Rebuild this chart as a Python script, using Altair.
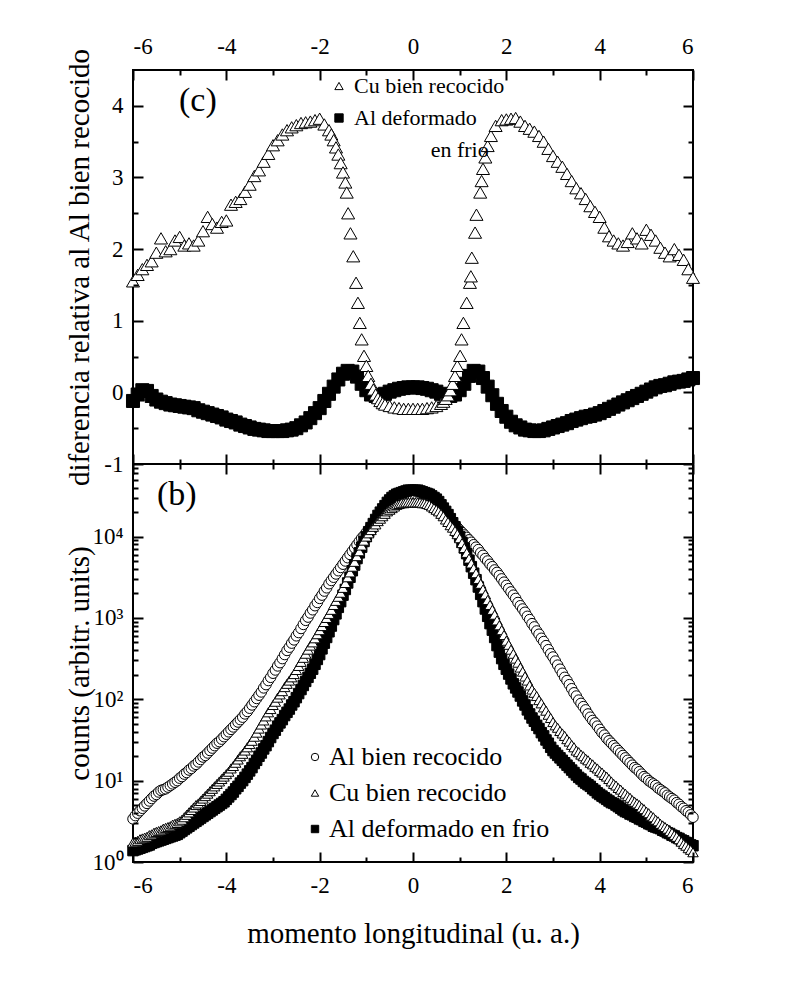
import altair as alt
import pandas as pd

FONT = "Liberation Serif"
W, H_TOP, H_BOT = 560, 394, 398

# ---------------- panel (c): relative difference ----------------
cu_rel_x = [-6.0, -5.9, -5.8, -5.7, -5.6, -5.5, -5.4, -5.3, -5.2, -5.1,
            -5.0, -4.9, -4.8, -4.7, -4.6, -4.5, -4.4, -4.3, -4.2, -4.1,
            -4.0, -3.9, -3.8, -3.7, -3.6, -3.5, -3.4, -3.3, -3.2, -3.1,
            -3.0, -2.9, -2.8, -2.7, -2.6, -2.5, -2.4, -2.3, -2.2, -2.1,
            -2.0, -1.9, -1.8,
            -1.75, -1.7, -1.65, -1.6, -1.55, -1.5, -1.45, -1.42, -1.39, -1.34,
            -1.28, -1.22, -1.18, -1.14, -1.10, -1.05, -1.00, -0.96, -0.90, -0.85,
            -0.80, -0.75, -0.70, -0.65, -0.60,
            -0.5, -0.4, -0.3, -0.2, -0.1, 0.0, 0.1, 0.2, 0.3, 0.4, 0.5,
            0.60, 0.65, 0.70, 0.75, 0.80, 0.85, 0.90, 0.95, 1.01, 1.04,
            1.08, 1.15, 1.22, 1.24, 1.26, 1.33, 1.36, 1.44, 1.47, 1.50,
            1.55, 1.60, 1.67, 1.77, 1.90,
            2.0, 2.1, 2.2, 2.3, 2.4, 2.5, 2.6, 2.7, 2.8, 2.9,
            3.0, 3.1, 3.2, 3.3, 3.4, 3.5, 3.6, 3.7, 3.8, 3.9,
            4.0, 4.1, 4.2, 4.3, 4.4, 4.5, 4.6, 4.7, 4.8, 4.9,
            5.0, 5.1, 5.2, 5.3, 5.4, 5.5, 5.6, 5.7, 5.8, 5.9, 6.0]
cu_rel_y = [1.55, 1.64, 1.72, 1.78, 1.83, 1.95, 2.15, 1.97, 2.00, 2.12,
            2.17, 2.05, 2.08, 2.05, 2.12, 2.25, 2.45, 2.35, 2.30, 2.38,
            2.40, 2.62, 2.66, 2.70, 2.80, 2.90, 3.02, 3.10, 3.22, 3.33,
            3.45, 3.52, 3.60, 3.66, 3.70, 3.73, 3.76, 3.77, 3.78, 3.80,
            3.82, 3.74, 3.66,
            3.60, 3.52, 3.42, 3.32, 3.20, 3.07, 2.93, 2.79, 2.50, 2.22,
            1.90, 1.53, 1.25, 0.97, 0.74, 0.51, 0.37, 0.23, 0.12, 0.04,
            -0.03, -0.08, -0.12, -0.15, -0.17,
            -0.19, -0.21, -0.22, -0.23, -0.23, -0.23, -0.23, -0.23, -0.22, -0.21, -0.19,
            -0.16, -0.13, -0.09, -0.04, 0.03, 0.12, 0.23, 0.37, 0.51, 0.74,
            0.97, 1.25, 1.53, 1.62, 1.88, 2.23, 2.48, 2.79, 2.95, 3.12,
            3.28, 3.44, 3.58, 3.72, 3.80,
            3.81, 3.82, 3.83, 3.78, 3.72, 3.68, 3.64, 3.58, 3.50, 3.40,
            3.30, 3.22, 3.15, 3.05, 2.95, 2.85, 2.78, 2.70, 2.60, 2.52,
            2.45, 2.30, 2.18, 2.12, 2.08, 2.05, 2.10, 2.22, 2.15, 2.08,
            2.27, 2.20, 2.12, 2.02, 1.95, 1.90, 2.00, 1.92, 1.85, 1.72, 1.60]

# momentum grid of panel (c) squares (-6 ... 6, step 0.1)
grid_c = [round(-6 + 0.1 * i, 1) for i in range(121)]

al_def_rel = [-0.12, -0.03, 0.03, 0.02, -0.05, -0.10, -0.13, -0.15, -0.17, -0.18,
              -0.19, -0.20, -0.21, -0.22, -0.25, -0.27, -0.29, -0.31, -0.33, -0.35,
              -0.38, -0.40, -0.42, -0.45, -0.47, -0.49, -0.51, -0.52, -0.53, -0.54,
              -0.54, -0.54, -0.54, -0.53, -0.52, -0.50, -0.46, -0.42, -0.36, -0.29,
              -0.22, -0.12, -0.02, 0.08, 0.18, 0.26, 0.30, 0.29, 0.22, 0.12,
              0.03, -0.03, -0.05, -0.04, -0.02, 0.01, 0.03, 0.05, 0.06, 0.07,
              0.07,
              0.07, 0.06, 0.05, 0.03, 0.01, -0.02, -0.04, -0.05, -0.03, 0.03,
              0.12, 0.23, 0.30, 0.29, 0.20, 0.08, -0.04, -0.16, -0.26, -0.34,
              -0.41, -0.46, -0.49, -0.52, -0.53, -0.54, -0.54, -0.53, -0.51, -0.49,
              -0.47, -0.45, -0.43, -0.40, -0.38, -0.36, -0.34, -0.33, -0.31, -0.29,
              -0.26, -0.23, -0.20, -0.17, -0.14, -0.11, -0.08, -0.05, -0.02, 0.01,
              0.04, 0.07, 0.09, 0.10, 0.12, 0.14, 0.15, 0.16, 0.18, 0.20]

# ---------------- panel (b): counts, stored as log10(counts), step 0.05 ----------------
grid_b = [round(-6 + 0.05 * i, 2) for i in range(241)]

log_al_rec = [0.53, 0.57, 0.60, 0.63, 0.66, 0.69, 0.72, 0.75, 0.78, 0.81,
              0.83, 0.86, 0.88, 0.89, 0.90, 0.92, 0.94, 0.96, 0.98, 1.00,
              1.03, 1.05, 1.08, 1.10, 1.13, 1.15, 1.18, 1.20, 1.23, 1.26,
              1.29, 1.31, 1.34, 1.37, 1.40, 1.43, 1.46, 1.48, 1.51, 1.54,
              1.57, 1.60, 1.63, 1.66, 1.69, 1.72, 1.75, 1.78, 1.82, 1.85,
              1.89, 1.93, 1.97, 2.01, 2.05, 2.09, 2.14, 2.18, 2.23, 2.27,
              2.32, 2.36, 2.41, 2.45, 2.50, 2.55, 2.60, 2.64, 2.69, 2.73,
              2.78, 2.82, 2.87, 2.92, 2.97, 3.01, 3.06, 3.10, 3.15, 3.19,
              3.24, 3.28, 3.33, 3.37, 3.42, 3.46, 3.50, 3.54, 3.58, 3.62,
              3.66, 3.70, 3.74, 3.78, 3.82, 3.86, 3.90, 3.94, 3.98, 4.01,
              4.05, 4.08, 4.12, 4.15, 4.18, 4.21, 4.24, 4.26, 4.29, 4.31,
              4.34, 4.36, 4.38, 4.39, 4.41, 4.42, 4.43, 4.44, 4.45, 4.45,
              4.45,
              4.45, 4.45, 4.44, 4.43, 4.42, 4.41, 4.39, 4.38, 4.36, 4.34,
              4.31, 4.29, 4.26, 4.24, 4.21, 4.19, 4.16, 4.14, 4.11, 4.08,
              4.05, 4.02, 3.99, 3.96, 3.93, 3.90, 3.87, 3.84, 3.80, 3.77,
              3.73, 3.70, 3.66, 3.63, 3.59, 3.56, 3.52, 3.48, 3.44, 3.40,
              3.36, 3.32, 3.28, 3.24, 3.19, 3.15, 3.11, 3.07, 3.02, 2.98,
              2.93, 2.89, 2.84, 2.80, 2.75, 2.71, 2.66, 2.61, 2.56, 2.52,
              2.47, 2.42, 2.37, 2.32, 2.27, 2.23, 2.18, 2.13, 2.08, 2.04,
              1.99, 1.95, 1.91, 1.87, 1.82, 1.78, 1.74, 1.71, 1.67, 1.63,
              1.59, 1.56, 1.52, 1.49, 1.46, 1.43, 1.40, 1.37, 1.34, 1.31,
              1.28, 1.25, 1.22, 1.19, 1.16, 1.14, 1.11, 1.08, 1.05, 1.03,
              1.00, 0.98, 0.96, 0.94, 0.91, 0.89, 0.87, 0.85, 0.82, 0.80,
              0.78, 0.76, 0.73, 0.71, 0.68, 0.66, 0.63, 0.61, 0.58, 0.55]
log_cu_rec = [0.24, 0.25, 0.26, 0.28, 0.29, 0.30, 0.31, 0.33, 0.34, 0.36,
              0.37, 0.38, 0.39, 0.41, 0.42, 0.43, 0.44, 0.46, 0.47, 0.48,
              0.50, 0.52, 0.55, 0.58, 0.61, 0.64, 0.67, 0.70, 0.72, 0.75,
              0.78, 0.81, 0.84, 0.87, 0.90, 0.93, 0.96, 0.99, 1.02, 1.05,
              1.08, 1.11, 1.15, 1.18, 1.22, 1.26, 1.30, 1.33, 1.37, 1.41,
              1.45, 1.49, 1.54, 1.59, 1.64, 1.69, 1.74, 1.79, 1.84, 1.88,
              1.93, 1.97, 2.02, 2.06, 2.10, 2.15, 2.19, 2.23, 2.27, 2.31,
              2.36, 2.41, 2.46, 2.51, 2.56, 2.61, 2.66, 2.70, 2.75, 2.80,
              2.85, 2.90, 2.95, 3.00, 3.05, 3.10, 3.16, 3.21, 3.26, 3.31,
              3.37, 3.43, 3.50, 3.56, 3.63, 3.69, 3.76, 3.82, 3.89, 3.95,
              4.00, 4.04, 4.08, 4.12, 4.15, 4.19, 4.22, 4.25, 4.28, 4.31,
              4.33, 4.35, 4.37, 4.39, 4.40, 4.41, 4.41, 4.42, 4.42, 4.42,
              4.42,
              4.42, 4.42, 4.42, 4.41, 4.41, 4.40, 4.39, 4.37, 4.35, 4.33,
              4.31, 4.28, 4.25, 4.21, 4.18, 4.14, 4.11, 4.07, 4.03, 3.98,
              3.92, 3.86, 3.80, 3.73, 3.67, 3.61, 3.55, 3.48, 3.42, 3.35,
              3.29, 3.22, 3.16, 3.10, 3.04, 2.97, 2.91, 2.85, 2.79, 2.72,
              2.67, 2.61, 2.56, 2.50, 2.45, 2.39, 2.34, 2.28, 2.23, 2.17,
              2.12, 2.08, 2.04, 1.99, 1.95, 1.90, 1.86, 1.81, 1.77, 1.72,
              1.68, 1.65, 1.61, 1.58, 1.55, 1.51, 1.48, 1.44, 1.41, 1.37,
              1.35, 1.32, 1.30, 1.27, 1.25, 1.22, 1.20, 1.17, 1.15, 1.12,
              1.10, 1.07, 1.05, 1.02, 0.99, 0.96, 0.94, 0.91, 0.89, 0.86,
              0.84, 0.81, 0.79, 0.76, 0.74, 0.72, 0.70, 0.67, 0.65, 0.62,
              0.60, 0.57, 0.55, 0.52, 0.50, 0.47, 0.45, 0.43, 0.41, 0.38,
              0.36, 0.33, 0.31, 0.28, 0.25, 0.22, 0.20, 0.17, 0.15, 0.12]
log_al_def = [0.14, 0.15, 0.16, 0.17, 0.18, 0.19, 0.20, 0.21, 0.23, 0.24,
              0.25, 0.26, 0.27, 0.28, 0.29, 0.30, 0.31, 0.32, 0.33, 0.34,
              0.36, 0.38, 0.40, 0.42, 0.44, 0.46, 0.48, 0.50, 0.52, 0.54,
              0.56, 0.58, 0.60, 0.62, 0.64, 0.66, 0.68, 0.70, 0.72, 0.74,
              0.77, 0.80, 0.83, 0.86, 0.90, 0.93, 0.97, 1.00, 1.04, 1.08,
              1.12, 1.16, 1.21, 1.25, 1.30, 1.34, 1.39, 1.43, 1.48, 1.53,
              1.58, 1.62, 1.67, 1.71, 1.75, 1.80, 1.84, 1.88, 1.93, 1.97,
              2.02, 2.07, 2.12, 2.17, 2.22, 2.27, 2.32, 2.37, 2.43, 2.49,
              2.55, 2.62, 2.69, 2.76, 2.83, 2.90, 2.98, 3.05, 3.13, 3.20,
              3.28, 3.35, 3.43, 3.50, 3.58, 3.65, 3.73, 3.80, 3.87, 3.94,
              4.00, 4.06, 4.11, 4.16, 4.21, 4.26, 4.30, 4.34, 4.38, 4.42,
              4.45, 4.48, 4.50, 4.52, 4.53, 4.54, 4.55, 4.56, 4.57, 4.57,
              4.57,
              4.57, 4.57, 4.56, 4.55, 4.54, 4.53, 4.52, 4.50, 4.48, 4.46,
              4.43, 4.39, 4.35, 4.31, 4.27, 4.22, 4.17, 4.12, 4.06, 4.00,
              3.93, 3.86, 3.79, 3.71, 3.63, 3.55, 3.47, 3.38, 3.29, 3.20,
              3.11, 3.02, 2.93, 2.85, 2.76, 2.66, 2.58, 2.50, 2.43, 2.37,
              2.31, 2.25, 2.19, 2.14, 2.09, 2.04, 1.98, 1.93, 1.87, 1.82,
              1.77, 1.73, 1.68, 1.64, 1.59, 1.55, 1.50, 1.46, 1.41, 1.37,
              1.34, 1.31, 1.28, 1.25, 1.22, 1.19, 1.16, 1.13, 1.10, 1.07,
              1.04, 1.02, 0.99, 0.97, 0.95, 0.93, 0.90, 0.88, 0.85, 0.83,
              0.81, 0.79, 0.77, 0.75, 0.73, 0.72, 0.70, 0.68, 0.66, 0.64,
              0.62, 0.61, 0.59, 0.58, 0.56, 0.55, 0.53, 0.52, 0.50, 0.49,
              0.47, 0.46, 0.44, 0.43, 0.42, 0.41, 0.39, 0.38, 0.36, 0.35,
              0.33, 0.32, 0.30, 0.29, 0.27, 0.26, 0.24, 0.23, 0.21, 0.20]

top_series = ["Cu bien recocido", "Al deformado"]
bot_series = ["Al bien recocido", "Cu bien recocido", "Al deformado en frio"]

# draw order: filled squares first, hollow markers on top
top_df = pd.concat([
    pd.DataFrame({"x": grid_c, "y": al_def_rel, "serie": "Al deformado"}),
    pd.DataFrame({"x": cu_rel_x, "y": cu_rel_y, "serie": "Cu bien recocido"}),
], ignore_index=True)

bot_df = pd.concat([
    pd.DataFrame({"x": grid_b, "y": [10 ** v for v in log_al_rec], "serie": "Al bien recocido"}),
    pd.DataFrame({"x": grid_b, "y": [10 ** v for v in log_al_def], "serie": "Al deformado en frio"}),
    pd.DataFrame({"x": grid_b, "y": [10 ** v for v in log_cu_rec], "serie": "Cu bien recocido"}),
], ignore_index=True)

xs = alt.Scale(domain=[-6, 6], nice=False, zero=False)
ys_top = alt.Scale(domain=[-1, 4.5], nice=False, zero=False)
ys_bot = alt.Scale(type="log", domain=[1, 78000], nice=False)

X_MAJ = [-6, -4, -2, 0, 2, 4, 6]
X_MIN = [-5, -3, -1, 1, 3, 5]
YT_MAJ = [-1, 0, 1, 2, 3, 4]
YT_MIN = [-0.5, 0.5, 1.5, 2.5, 3.5]
YB_MAJ = [1, 10, 100, 1000, 10000]
YB_MIN = [m * 10 ** e for e in range(5) for m in range(2, 10) if m * 10 ** e < 78000]

LAB = 23


def tick_axis(orient, offset, values, size):
    return alt.Axis(orient=orient, offset=offset, values=values, tickSize=size,
                    tickWidth=2, tickColor="black", ticks=True, labels=False,
                    domain=False, grid=False, title=None, zindex=1)


def tick_layers(df, yscale, h, ymaj, ymin):
    small = df.iloc[:2]
    out = []
    for xo, yo in (("bottom", "right"), ("top", "left")):
        for xv, yv, sz in ((X_MAJ, ymaj, 10), (X_MIN, ymin, 5)):
            out.append(
                alt.Chart(small).mark_point(opacity=0).encode(
                    x=alt.X("x:Q", scale=xs, axis=tick_axis(xo, -h, xv, sz)),
                    y=alt.Y("y:Q", scale=yscale, axis=tick_axis(yo, -W, yv, sz)),
                )
            )
    return out


def text_layer(txt, x, y, yscale, size, align="center"):
    return alt.Chart(pd.DataFrame({"k": [0]})).mark_text(
        text=txt, font=FONT, fontSize=size, color="black", align=align, baseline="middle"
    ).encode(
        x=alt.XDatum(x, type="quantitative", scale=xs, axis=None),
        y=alt.YDatum(y, type="quantitative", scale=yscale, axis=None),
    )


def y_label_axis(values, title, expr):
    return alt.Axis(orient="left", values=values, ticks=False, domain=False, grid=False,
                    labelFont=FONT, labelFontSize=LAB, labelColor="black", labelPadding=10,
                    labelExpr=expr, title=title, titleFont=FONT, titleFontSize=29,
                    titleFontWeight="normal", titleColor="black", titlePadding=4,
                    minExtent=35, maxExtent=35)


def series_encodings(domain, shapes, fills, legend):
    return dict(
        shape=alt.Shape("serie:N", scale=alt.Scale(domain=domain, range=shapes), legend=legend),
        fill=alt.Fill("serie:N", scale=alt.Scale(domain=domain, range=fills), legend=legend),
        stroke=alt.Stroke("serie:N", scale=alt.Scale(domain=domain, range=["black"] * len(domain)),
                          legend=legend),
    )


# ---- top panel ----
top_legend = alt.Legend(orient="none", legendX=195, legendY=5, title=None, labelFont=FONT,
                        labelFontSize=22, labelColor="black", symbolSize=70,
                        symbolStrokeWidth=1, rowPadding=10,
                        labelOffset=4, padding=0, labelLimit=400)
top_points = alt.Chart(top_df).mark_point(filled=True, strokeWidth=1, opacity=1, size=170).encode(
    x=alt.X("x:Q", scale=xs,
            axis=alt.Axis(orient="top", values=X_MAJ, ticks=False, domain=False, grid=False,
                          labelFont=FONT, labelFontSize=LAB, labelColor="black", labelPadding=12,
                          labelExpr="'' + datum.value", title=None)),
    y=alt.Y("y:Q", scale=ys_top,
            axis=y_label_axis(YT_MAJ, "diferencia relativa al Al bien recocido", "'' + datum.value")),
    **series_encodings(top_series, ["triangle-up", "square"], ["white", "black"], top_legend),
)
top = alt.layer(
    top_points,
    *tick_layers(top_df, ys_top, H_TOP, YT_MAJ, YT_MIN),
    text_layer("(c)", -4.61, 4.07, ys_top, 34),
    text_layer("en frio", 1.0, 3.38, ys_top, 22),
).resolve_axis(x="independent", y="independent").properties(width=W, height=H_TOP)

# ---- bottom panel ----
bot_legend = alt.Legend(orient="none", legendX=169, legendY=280, title=None, labelFont=FONT,
                        labelFontSize=26, labelColor="black", symbolSize=55,
                        symbolStrokeWidth=1, rowPadding=10,
                        labelOffset=1, padding=0, labelLimit=500)
bot_points = alt.Chart(bot_df).mark_point(filled=True, strokeWidth=1, opacity=1, size=110).encode(
    x=alt.X("x:Q", scale=xs,
            axis=alt.Axis(orient="bottom", values=X_MAJ, ticks=False, domain=False, grid=False,
                          labelFont=FONT, labelFontSize=LAB, labelColor="black", labelPadding=12,
                          labelExpr="'' + datum.value", title="momento longitudinal (u. a.)",
                          titleFont=FONT, titleFontSize=29, titleFontWeight="normal",
                          titleColor="black", titlePadding=22)),
    y=alt.Y("y:Q", scale=ys_bot,
            axis=y_label_axis(YB_MAJ, "counts (arbitr. units)",
                              "'10' + ['\u2070','\u00b9','\u00b2','\u00b3','\u2074'][round(log(datum.value)/LN10)]")),
    **series_encodings(bot_series, ["circle", "triangle-up", "square"], ["white", "white", "black"], bot_legend),
)
bottom = alt.layer(
    bot_points,
    *tick_layers(bot_df, ys_bot, H_BOT, YB_MAJ, YB_MIN),
    text_layer("(b)", -5.06, 32400, ys_bot, 34),
).resolve_axis(x="independent", y="independent").properties(width=W, height=H_BOT)

chart = alt.vconcat(top, bottom, spacing=0, bounds="flush").resolve_scale(
    shape="independent", fill="independent", stroke="independent"
).configure_view(stroke="black", strokeWidth=2).properties(
    padding={"left": 56, "top": 26, "right": 5, "bottom": 5}, background="white"
)

chart.save("out.html", embed_options={"renderer": "svg", "actions": False})
